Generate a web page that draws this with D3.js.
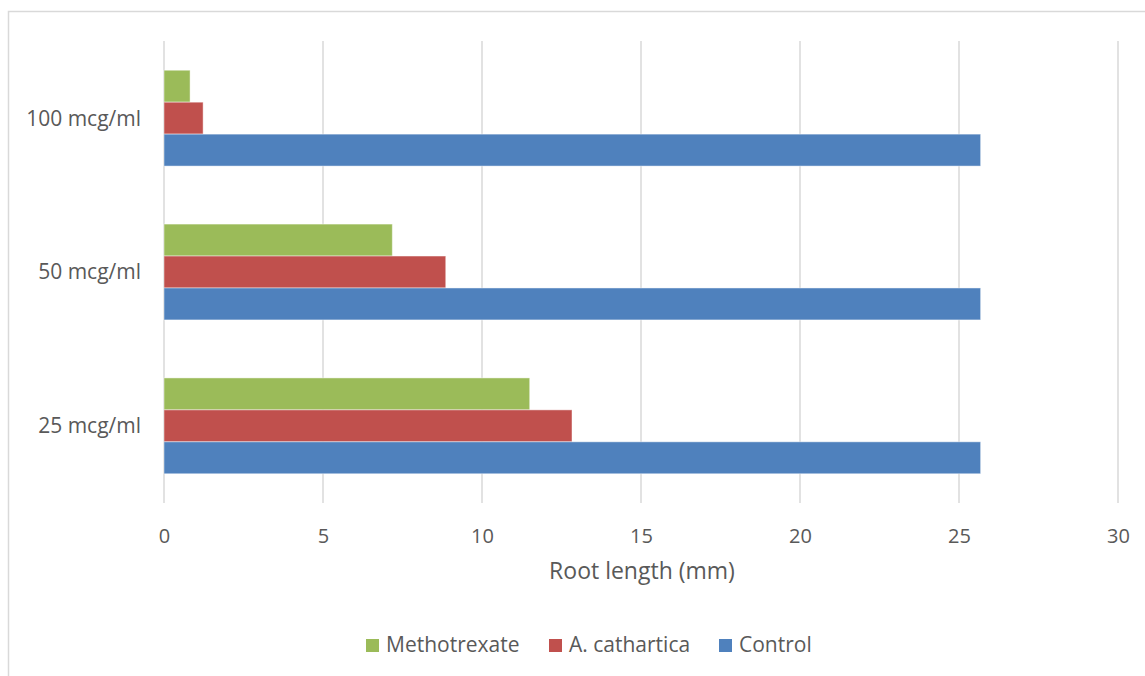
<!DOCTYPE html>
<html>
<head>
<meta charset="utf-8">
<script src="https://cdn.jsdelivr.net/npm/d3@7"></script>
<style>
  html, body { margin: 0; padding: 0; background: #fff; }
  svg { display: block; }
  text { font-family: "Open Sans", "Noto Sans", sans-serif; fill: #595959; }
</style>
</head>
<body>
<svg id="chart" width="1145" height="676"></svg>
<script>
// Concentrations, listed bottom to top as drawn
const categories = ["25 mcg/ml", "50 mcg/ml", "100 mcg/ml"];
const seriesNames = ["Methotrexate", "A. cathartica", "Control"];
const seriesColors = ["#9BBB59", "#C0504D", "#4F81BD"];
// Root length (mm) per concentration, same order as categories
const methotrexate = [11.5, 7.18, 0.82];
const cathartica = [12.83, 8.86, 1.23];
const control = [25.68, 25.68, 25.68];
const xTicks = [0, 5, 10, 15, 20, 25, 30];

const seriesValues = [methotrexate, cathartica, control];

const svg = d3.select("#chart");

// outer chart frame
svg.append("rect")
  .attr("x", 8.5).attr("y", 11.5)
  .attr("width", 1160).attr("height", 700)
  .attr("fill", "none").attr("stroke", "#d9d9d9").attr("stroke-width", 1.5);

const plot = { left: 164, right: 1118, top: 41, bottom: 503 };

const x = d3.scaleLinear().domain([0, 30]).range([plot.left, plot.right]);
const y = d3.scaleBand()
  .domain(categories.slice().reverse())
  .range([plot.top, plot.bottom])
  .paddingInner(0.377).paddingOuter(0.19);
const inner = d3.scaleBand().domain(seriesNames).range([0, y.bandwidth()]);

// vertical gridlines
svg.append("g").selectAll("line").data(xTicks).join("line")
  .attr("x1", d => x(d)).attr("x2", d => x(d))
  .attr("y1", plot.top).attr("y2", plot.bottom)
  .attr("stroke", "#d9d9d9").attr("stroke-width", 1.5);

// bars
const groups = svg.append("g").selectAll("g").data(categories).join("g")
  .attr("transform", c => `translate(0,${y(c)})`);
groups.each(function(c, ci) {
  d3.select(this).selectAll("rect").data(seriesNames).join("rect")
    .attr("x", x(0))
    .attr("y", s => inner(s))
    .attr("width", (s, si) => x(seriesValues[si][ci]) - x(0))
    .attr("height", inner.bandwidth())
    .attr("fill", (s, si) => seriesColors[si])
    .attr("stroke", "#ffffff").attr("stroke-opacity", 0.45).attr("stroke-width", 1);
});

// x axis tick labels
const xAxis = d3.axisBottom(x).tickValues(xTicks).tickSize(0).tickPadding(0);
const gx = svg.append("g").attr("transform", `translate(0,543)`).call(xAxis);
gx.select(".domain").remove();
gx.selectAll("text").attr("y", 0).attr("dy", null)
  .style("font-size", "20px").style("fill", "#595959")
  .style("font-family", "'Open Sans', sans-serif");

// category labels
const yAxis = d3.axisLeft(y).tickSize(0).tickPadding(23);
const gy = svg.append("g").attr("transform", `translate(${plot.left},0)`).call(yAxis);
gy.select(".domain").remove();
gy.selectAll("text").attr("dy", "0.35em")
  .style("font-size", "21px").style("fill", "#595959")
  .style("font-family", "'Open Sans', sans-serif");

// axis title
svg.append("text")
  .attr("x", 642).attr("y", 579)
  .attr("text-anchor", "middle")
  .style("font-size", "23px")
  .text("Root length (mm)");

// legend
const legendX = [366, 549, 719];
const legend = svg.append("g").selectAll("g").data(seriesNames).join("g")
  .attr("transform", (d, i) => `translate(${legendX[i]},639)`);
legend.append("rect").attr("width", 13).attr("height", 13)
  .attr("fill", (d, i) => seriesColors[i]);
legend.append("text").attr("x", 20).attr("y", 13)
  .style("font-size", "21px").text(d => d);
</script>
</body>
</html>
